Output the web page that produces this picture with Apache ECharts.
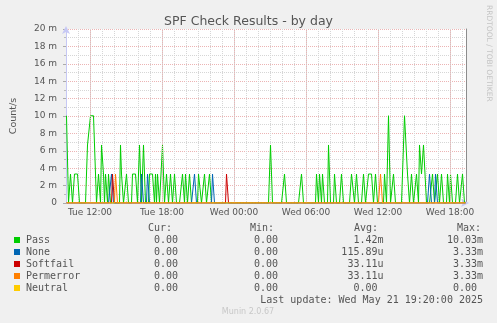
<!DOCTYPE html>
<html>
<head>
<meta charset="utf-8">
<script src="https://cdn.jsdelivr.net/npm/echarts@6/dist/echarts.min.js"></script>
<style>
  html, body { margin: 0; padding: 0; background: #f0f0f0; }
  #chart { width: 497px; height: 323px; }
</style>
</head>
<body>
<div id="chart"></div>
<script>
// Samples every 5 minutes from Tue 10:00 to Wed 19:20 (400 samples).
// One digit per sample: number of results seen in that 5-minute step.
const stepMinutes = 5;
// rate per second (in milli) for 0..3 results in one step
const levels = [0, 3.33, 6.67, 10.03];

const passCounts = [
  "3300110011 1110000000 0222333333 0011022101 1011000000",
  "0000211000 1100001111 1002201220 0001111101 0110002200",
  "1100110011 0000001101 1001100000 0011100011 0001100000",
  "0000000000 0000000000 0000000000 0000000000 0000000000",
  "0000220000 0000000011 0000000000 0000011000 0000000000",
  "1101101100 0022000011 0000011000 0000011100 1100000110",
  "0011111001 1000000011 0033000110 0000001133 3110011000",
  "1102211222 0000001100 0110011000 0110110000 0110001100"
];
const noneCounts = [
  "0000000000 0000000000 0000000000 0000000000 0000011000",
  "0000000000 0000000000 0000011000 0110000000 0000000000",
  "0000000000 0000000000 0000000011 0000000000 0000001100",
  "0000000000 0000000000 0000000000 0000000000 0000000000",
  "0000000000 0000000000 0000000000 0000000000 0000000000",
  "0000000000 0000000000 0000000000 0000000000 0000000000",
  "0000000000 0000000000 0000000000 0000000000 0000000000",
  "0000000000 0001100001 1000000000 0000000000 0000000000"
];
const softfailCounts = [
  "0000000000 0000000000 0000000000 0000000000 0000001100",
  "0000000000 0000000000 0000000000 0000000000 0000000000",
  "0000000000 0000000000 0000000000 0000000000 0000000000",
  "0000000000 1100000000 0000000000 0000000000 0000000000",
  "0000000000 0000000000 0000000000 0000000000 0000000000",
  "0000000000 0000000000 0000000000 0000000000 0000000000",
  "0000000000 0000000000 0000000000 0000000000 0000000000",
  "0000000000 0000000000 0000000000 0000000000 0000000000"
];
const permerrorCounts = [
  "0000000000 0000000000 0000000000 0000000000 0000000001",
  "1000000000 0000000000 0000000000 0000000000 0000000000",
  "0000000000 0000000000 0000000000 0000000000 0000000000",
  "0000000000 0000000000 0000000000 0000000000 0000000000",
  "0000000000 0000000000 0000000000 0000000000 0000000000",
  "0000000000 0000000000 0000000000 0000000000 0000000000",
  "0000000000 0000110000 0000000000 0000000000 0000000000",
  "0000000000 0000000000 0000000000 0000000000 0000000000"
];
const neutralCounts = [
  "0000000000 0000000000 0000000000 0000000000 0000000000",
  "0000000000 0000000000 0000000000 0000000000 0000000000",
  "0000000000 0000000000 0000000000 0000000000 0000000000",
  "0000000000 0000000000 0000000000 0000000000 0000000000",
  "0000000000 0000000000 0000000000 0000000000 0000000000",
  "0000000000 0000000000 0000000000 0000000000 0000000000",
  "0000000000 0000000000 0000000000 0000000000 0000000000",
  "0000000000 0000000000 0000000000 0000000000 0000000000"
];

const seriesNames  = ["Pass", "None", "Softfail", "Permerror", "Neutral"];
const seriesColors = ["#00cc00", "#0066b3", "#cc0000", "#ff8000", "#ffcc00"];
const seriesCounts = [passCounts, noneCounts, softfailCounts, permerrorCounts, neutralCounts];

const statCur = ["0.00", "0.00", "0.00", "0.00", "0.00"];
const statMin = ["0.00", "0.00", "0.00", "0.00", "0.00"];
const statAvg = ["1.42m", "115.89u", "33.11u", "33.11u", "0.00"];
const statMax = ["10.03m", "3.33m", "3.33m", "3.33m", "0.00"];
const statHeaders = ["Cur:", "Min:", "Avg:", "Max:"];

// minutes after Tue 10:00
const tickMinutes = [120, 480, 840, 1200, 1560, 1920];
const tickLabels = ["Tue 12:00", "Tue 18:00", "Wed 00:00", "Wed 06:00", "Wed 12:00", "Wed 18:00"];
const lastUpdate = "Last update: Wed May 21 19:20:00 2025";

function expand(rows) {
  return rows.join("").replace(/\s+/g, "").split("").map(Number);
}
function toPoints(rows) {
  return expand(rows).map((n, i) => [i * stepMinutes + stepMinutes / 2, levels[n]]);
}
const totalMinutes = expand(passCounts).length * stepMinutes;

const mono = "DejaVu Sans Mono";
const sans = "DejaVu Sans";
const textColor = "#555";

const gridMinor = "#d6d6d6";
const gridMajor = "#ecb4b4";
const axisBlue = "#c6c8f4";

const plotLeft = 66, plotRight = 31;
const plotWidth = 497 - plotLeft - plotRight;
// half a pixel expressed in minutes, keeps the 1px dotted verticals crisp
const halfPixel = totalMinutes / plotWidth / 2;

const series = seriesNames.map((name, k) => ({
  name: name,
  type: "line",
  data: toPoints(seriesCounts[k]),
  showSymbol: false,
  symbol: "none",
  silent: true,
  animation: false,
  z: 3 + k,
  lineStyle: { color: seriesColors[k], width: 1 },
  emphasis: { disabled: true }
}));

// six-hourly major verticals
series.unshift({
  type: "line",
  data: [],
  silent: true,
  animation: false,
  z: 1,
  markLine: {
    silent: true,
    symbol: "none",
    animation: false,
    label: { show: false },
    lineStyle: { color: gridMajor, type: [1, 1], width: 1 },
    data: tickMinutes.map(v => ({ xAxis: v + halfPixel }))
  }
});

// legend table below the plot
const graphics = [];
const colRight = { cur: 184, min: 284, avg: 383.5, max: 483 };
const headerRight = [172, 274, 378, 481];
const headerY = 228;
const rowY0 = 240, rowStep = 12;
const pad = v => (/[a-zA-Z]$/.test(v) ? v : v + "\u00a0");

function txt(t, x, y, align, font, fill) {
  graphics.push({
    type: "text", x: x, y: y, silent: true,
    style: {
      text: t, font: font, fill: fill || textColor,
      textAlign: align, textVerticalAlign: "middle",
      align: align, verticalAlign: "middle"
    }
  });
}

statHeaders.forEach((h, i) => txt(h, headerRight[i], headerY, "right", "10px " + mono));

seriesNames.forEach((name, k) => {
  const y = rowY0 + k * rowStep;
  graphics.push({
    type: "rect", silent: true,
    shape: { x: 14, y: y - 3, width: 6, height: 6 },
    style: { fill: seriesColors[k] }
  });
  txt(name, 26, y, "left", "10px " + mono);
  txt(pad(statCur[k]), colRight.cur, y, "right", "10px " + mono);
  txt(pad(statMin[k]), colRight.min, y, "right", "10px " + mono);
  txt(pad(statAvg[k]), colRight.avg, y, "right", "10px " + mono);
  txt(pad(statMax[k]), colRight.max, y, "right", "10px " + mono);
});

txt(lastUpdate, 483, 300, "right", "10px " + mono);
txt("Munin 2.0.67", 248, 312, "center", "8px " + sans, "#c8c8c8");

graphics.push({
  type: "text", x: 488.5, y: 5, rotation: -Math.PI / 2, silent: true,
  style: {
    text: "RRDTOOL / TOBI OETIKER", font: "7.5px " + sans, fill: "#c4c4c4",
    textAlign: "left", textVerticalAlign: "middle", align: "left", verticalAlign: "middle"
  }
});

const chart = echarts.init(document.getElementById("chart"), null, { renderer: "canvas" });
chart.setOption({
  backgroundColor: "#f0f0f0",
  animation: false,
  title: {
    text: "SPF Check Results - by day",
    left: "center",
    top: 10,
    textStyle: { fontFamily: sans, fontSize: 12.5, fontWeight: "normal", color: textColor }
  },
  grid: {
    left: plotLeft, right: plotRight, top: 29, bottom: 120,
    show: true, backgroundColor: "#ffffff", borderWidth: 0
  },
  xAxis: {
    type: "value",
    min: 0,
    max: totalMinutes,
    interval: 60,
    axisLine: {
      show: true, onZero: false,
      lineStyle: { color: axisBlue, width: 1 },
      symbol: ["none", "arrow"], symbolSize: [6, 8], symbolOffset: [0, 3]
    },
    axisTick: { show: false },
    axisLabel: {
      show: true,
      customValues: tickMinutes,
      formatter: v => tickLabels[tickMinutes.indexOf(v)] || "",
      fontFamily: sans, fontSize: 9, color: textColor, margin: 5
    },
    splitLine: { show: true, lineStyle: { color: gridMinor, type: [1, 1], width: 1 } }
  },
  yAxis: [{
    type: "value",
    min: 0,
    max: 20,
    interval: 2,
    name: "Count/s",
    nameLocation: "middle",
    nameGap: 47,
    nameTextStyle: { fontFamily: sans, fontSize: 9.5, color: textColor },
    axisLine: {
      show: true,
      lineStyle: { color: axisBlue, width: 1 },
      symbol: ["none", "arrow"], symbolSize: [6, 8], symbolOffset: [0, 3]
    },
    axisTick: { show: true, length: 3, lineStyle: { color: "#aaaaaa" } },
    minorTick: { show: true, splitNumber: 2, length: 2, lineStyle: { color: "#bbbbbb" } },
    axisLabel: {
      formatter: v => (v === 0 ? "0" : v + " m"),
      fontFamily: sans, fontSize: 9, color: textColor, margin: 9
    },
    splitLine: { show: true, lineStyle: { color: gridMajor, type: [1, 1], width: 1 } },
    minorSplitLine: { show: true, lineStyle: { color: gridMinor, type: [1, 1], width: 1 } }
  }, {
    type: "value",
    position: "right",
    min: 0,
    max: 20,
    axisLine: { show: true, lineStyle: { color: "#8c8c8c", width: 1 } },
    axisTick: { show: false },
    axisLabel: { show: false },
    splitLine: { show: false }
  }],
  series: series,
  graphic: graphics
});
</script>
</body>
</html>
